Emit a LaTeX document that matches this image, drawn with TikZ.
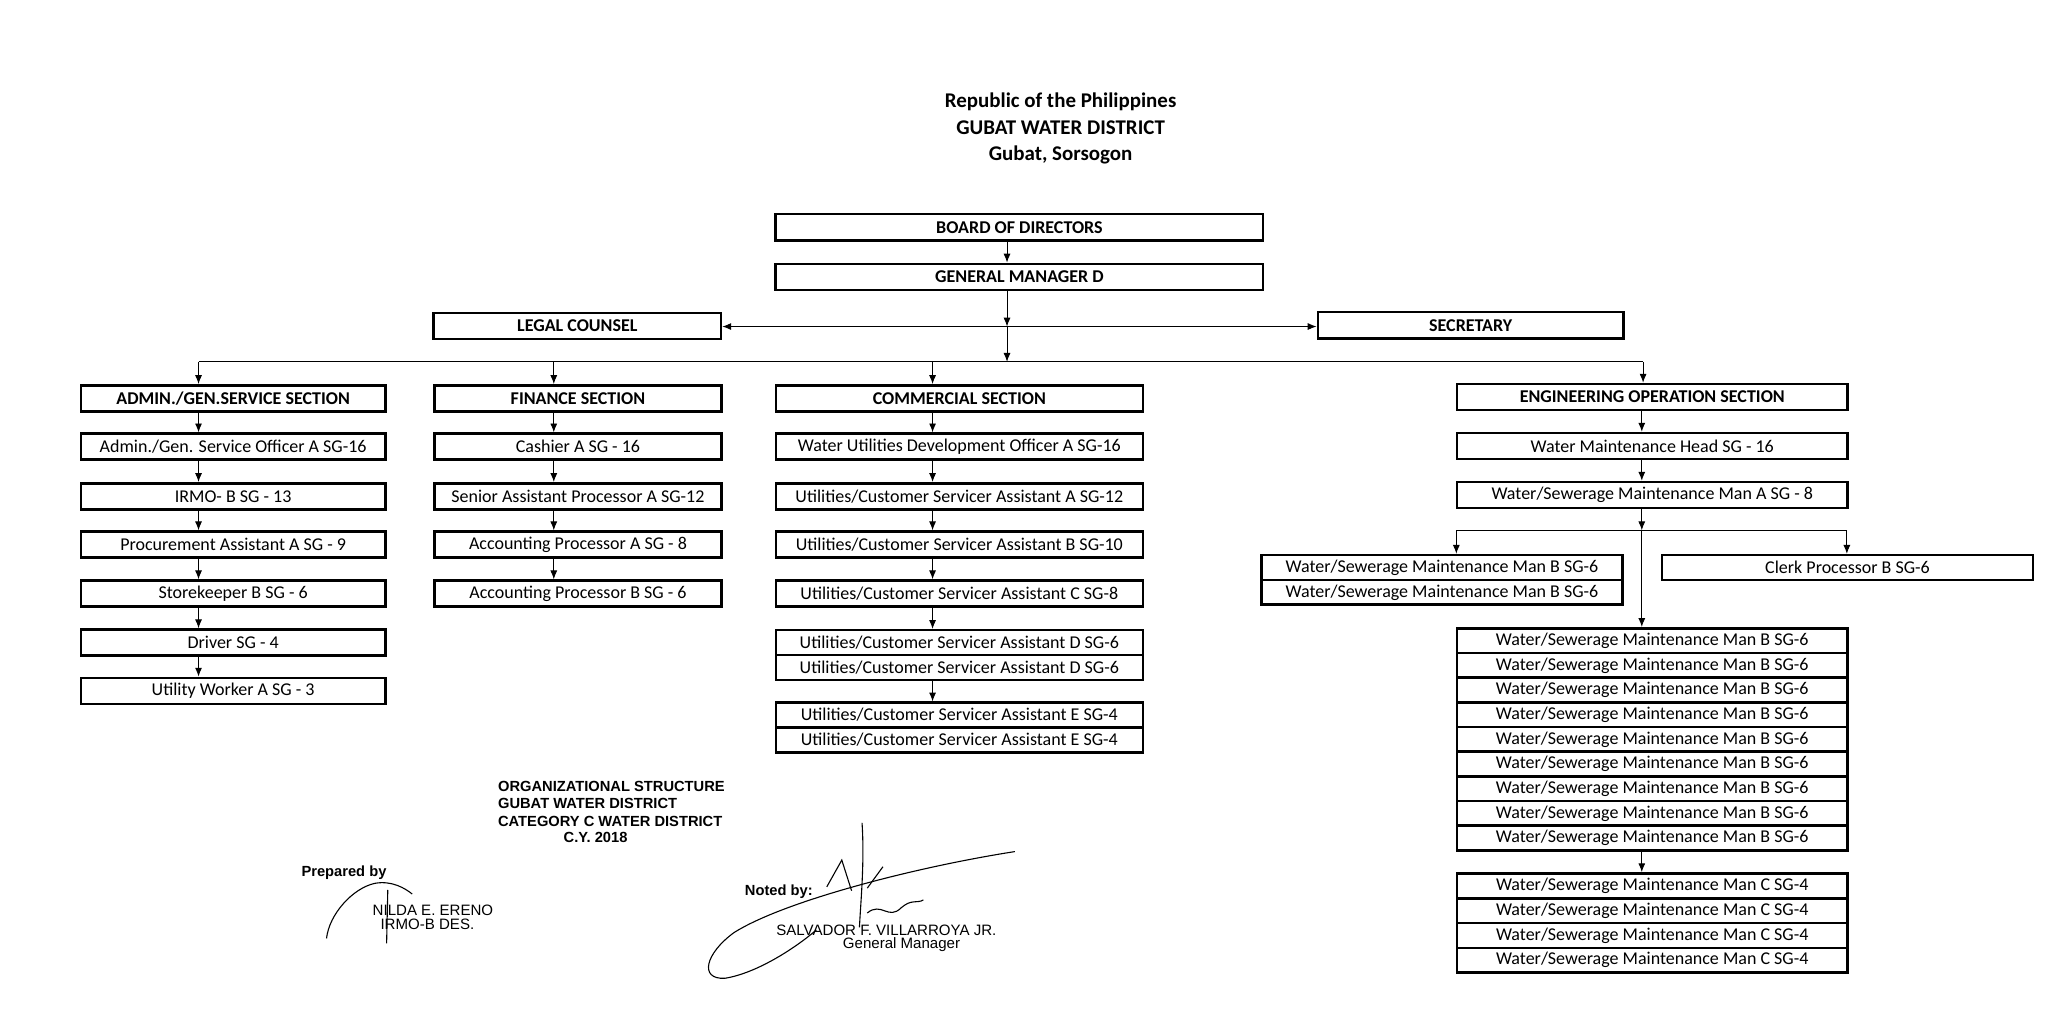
\documentclass[tikz,border=0pt]{standalone}
\usepackage{fontspec}
\setmainfont{Carlito}
\newfontfamily\scanfont{Liberation Sans}
\usetikzlibrary{arrows.meta}

\begin{document}
\begin{tikzpicture}[x=0.025cm, y=-0.025cm, ->, >={Latex[length=4.8pt,width=3.8pt]}, line width=0.5pt,
    box/.style={draw, rectangle, line width=1.4pt, minimum height=0.5cm, inner sep=0pt, font=\fontsize{9.8}{12}\selectfont},
    head/.style={box, font=\fontsize{9.8}{12}\selectfont\bfseries},
    row/.style={box, minimum height=0.475cm},
    admcol/.style={box, minimum width=5.825cm},
    fincol/.style={box, minimum width=5.5cm},
    comcol/.style={box, minimum width=7.025cm},
    engcol/.style={box, minimum width=7.475cm},
    title/.style={draw=none, inner sep=0pt, font=\fontsize{11.4}{14}\selectfont\bfseries},
    scan/.style={draw=none, inner sep=0pt, anchor=west, font=\scanfont\fontsize{8}{9}\selectfont\bfseries},
    scanname/.style={scan, font=\scanfont\fontsize{8.2}{9}\selectfont},
    sig/.style={-, line width=0.6pt}]
    \useasboundingbox (0,0) rectangle (1568,787);

    % Heading
    \node[title] (rep) at (812,78) {Republic of the Philippines};
    \node[title] (gwd) at (812,98) {GUBAT WATER DISTRICT};
    \node[title] (town) at (812,119) {Gubat, Sorsogon};

    % Nodes
    \node[head, minimum width=9.325cm] (board) at (780.5,174) {BOARD OF DIRECTORS};
    \node[head, minimum width=9.325cm] (gm) at (780.5,212) {GENERAL MANAGER D};
    \node[head, minimum width=5.5cm] (legal) at (442,249.5) {LEGAL COUNSEL};
    \node[head, minimum width=5.85cm] (sec) at (1126,249) {SECRETARY};

    \node[head, minimum width=5.825cm] (adm0) at (178.5,305) {ADMIN./GEN.SERVICE SECTION};
    \node[head, minimum width=5.5cm] (fin0) at (442.5,305) {FINANCE SECTION};
    \node[head, minimum width=7.025cm] (com0) at (734.5,305) {COMMERCIAL SECTION};
    \node[head, minimum width=7.475cm] (eng0) at (1265,304) {ENGINEERING OPERATION SECTION};

    \node[admcol] (adm1) at (178.5,342) {Admin./Gen. Service Officer A SG-16};
    \node[admcol] (adm2) at (178.5,380) {IRMO- B SG - 13};
    \node[admcol] (adm3) at (178.5,417) {Procurement Assistant A SG - 9};
    \node[admcol] (adm4) at (178.5,454.5) {Storekeeper B SG - 6};
    \node[admcol] (adm5) at (178.5,492) {Driver SG - 4};
    \node[admcol] (adm6) at (178.5,529) {Utility Worker A SG - 3};

    \node[fincol] (fin1) at (442.5,342) {Cashier A SG - 16};
    \node[fincol] (fin2) at (442.5,380) {Senior Assistant Processor A SG-12};
    \node[fincol] (fin3) at (442.5,417) {Accounting Processor A SG - 8};
    \node[fincol] (fin4) at (442.5,454.5) {Accounting Processor B SG - 6};

    \node[comcol] (com1) at (734.5,342) {Water Utilities Development Officer A SG-16};
    \node[comcol] (com2) at (734.5,380) {Utilities/Customer Servicer Assistant A SG-12};
    \node[comcol] (com3) at (734.5,417) {Utilities/Customer Servicer Assistant B SG-10};
    \node[comcol] (com4) at (734.5,454.5) {Utilities/Customer Servicer Assistant C SG-8};
    \node[comcol, row] (com5) at (734.5,492) {Utilities/Customer Servicer Assistant D SG-6};
    \node[comcol, row] (com6) at (734.5,511) {Utilities/Customer Servicer Assistant D SG-6};
    \node[comcol, row] (com7) at (734.5,547.5) {Utilities/Customer Servicer Assistant E SG-4};
    \node[comcol, row] (com8) at (734.5,566.5) {Utilities/Customer Servicer Assistant E SG-4};

    \node[engcol] (eng1) at (1265,341.5) {Water Maintenance Head SG - 16};
    \node[engcol] (eng2) at (1265,379) {Water/Sewerage Maintenance Man A SG - 8};
    \node[box, row, minimum width=6.9cm] (pair1) at (1104,434.5) {Water/Sewerage Maintenance Man B SG-6};
    \node[box, row, minimum width=6.9cm] (pair2) at (1104,453.5) {Water/Sewerage Maintenance Man B SG-6};
    \node[box, row, minimum width=7.1cm] (clerk) at (1414.5,434.5) {Clerk Processor B SG-6};

    \node[engcol, row] (mb1) at (1265,490.5) {Water/Sewerage Maintenance Man B SG-6};
    \node[engcol, row] (mb2) at (1265,509.4) {Water/Sewerage Maintenance Man B SG-6};
    \node[engcol, row] (mb3) at (1265,528.3) {Water/Sewerage Maintenance Man B SG-6};
    \node[engcol, row] (mb4) at (1265,547.2) {Water/Sewerage Maintenance Man B SG-6};
    \node[engcol, row] (mb5) at (1265,566.1) {Water/Sewerage Maintenance Man B SG-6};
    \node[engcol, row] (mb6) at (1265,585) {Water/Sewerage Maintenance Man B SG-6};
    \node[engcol, row] (mb7) at (1265,603.9) {Water/Sewerage Maintenance Man B SG-6};
    \node[engcol, row] (mb8) at (1265,622.8) {Water/Sewerage Maintenance Man B SG-6};
    \node[engcol, row] (mb9) at (1265,641.7) {Water/Sewerage Maintenance Man B SG-6};

    \node[engcol, row] (mc1) at (1265,678.2) {Water/Sewerage Maintenance Man C SG-4};
    \node[engcol, row] (mc2) at (1265,697.2) {Water/Sewerage Maintenance Man C SG-4};
    \node[engcol, row] (mc3) at (1265,716.2) {Water/Sewerage Maintenance Man C SG-4};
    \node[engcol, row] (mc4) at (1265,735.2) {Water/Sewerage Maintenance Man C SG-4};

    % Joints
    \coordinate (hub) at (771,250);
    \coordinate (bus) at (771,277);
    \coordinate (admX) at (152,277);
    \coordinate (finX) at (424,277);
    \coordinate (comX) at (714,277);
    \coordinate (engX) at (1258,277);
    \coordinate (split) at (1257,406);
    \coordinate (splitL) at (1115,406);
    \coordinate (splitR) at (1414,406);

    % Edges
    \draw (board.south -| hub) -- (gm.north -| hub);
    \draw (gm.south -| hub) -- (hub);
    \draw (hub) -- (hub -| legal.east);
    \draw (hub) -- (hub -| sec.west);
    \draw (hub) -- (bus);
    \draw[-] (admX) -- (engX);
    \draw (admX) -- (admX |- adm0.north);
    \draw (finX) -- (finX |- fin0.north);
    \draw (comX) -- (comX |- com0.north);
    \draw (engX) -- (engX |- eng0.north);

    \draw (adm0.south -| admX) -- (adm1.north -| admX);
    \draw (adm1.south -| admX) -- (adm2.north -| admX);
    \draw (adm2.south -| admX) -- (adm3.north -| admX);
    \draw (adm3.south -| admX) -- (adm4.north -| admX);
    \draw (adm4.south -| admX) -- (adm5.north -| admX);
    \draw (adm5.south -| admX) -- (adm6.north -| admX);

    \draw (fin0.south -| finX) -- (fin1.north -| finX);
    \draw (fin1.south -| finX) -- (fin2.north -| finX);
    \draw (fin2.south -| finX) -- (fin3.north -| finX);
    \draw (fin3.south -| finX) -- (fin4.north -| finX);

    \draw (com0.south -| comX) -- (com1.north -| comX);
    \draw (com1.south -| comX) -- (com2.north -| comX);
    \draw (com2.south -| comX) -- (com3.north -| comX);
    \draw (com3.south -| comX) -- (com4.north -| comX);
    \draw (com4.south -| comX) -- (com5.north -| comX);
    \draw (com6.south -| comX) -- (com7.north -| comX);

    \draw (eng0.south -| split) -- (eng1.north -| split);
    \draw (eng1.south -| split) -- (eng2.north -| split);
    \draw (eng2.south -| split) -- (split);
    \draw[-] (splitL) -- (splitR);
    \draw (splitL) -- (splitL |- pair1.north);
    \draw (splitR) -- (splitR |- clerk.north);
    \draw (split) -- (split |- mb1.north);
    \draw (mb9.south -| split) -- (mc1.north -| split);

    % Footer
    \node[scan] (org1) at (381,602.5) {ORGANIZATIONAL STRUCTURE};
    \node[scan] (org2) at (381,615.5) {GUBAT WATER DISTRICT};
    \node[scan] (org3) at (381,629) {CATEGORY C WATER DISTRICT};
    \node[scan, anchor=center] (org4) at (456,641.5) {C.Y. 2018};
    \node[scan] (prep) at (230.5,668) {Prepared by};
    \node[scanname] (nilda) at (285,697) {NILDA E. ERENO};
    \node[scanname] (irmo) at (291,707.5) {IRMO-B DES.};
    \node[scan] (noted) at (570,683) {Noted by:};
    \node[scanname] (salv) at (594,712) {SALVADOR F. VILLARROYA JR.};
    \node[scanname] (gmtitle) at (645,723) {General Manager};

    % Signatures
    \draw[sig] (250,718.5) .. controls (252,700) and (270,680) .. (287,676.3) .. controls (300,674) and (310,680) .. (315.6,684.5);
    \draw[sig] (296.9,681.4) -- (296,722.3);
    \draw[sig] (777,652) .. controls (700,664) and (600,690) .. (562,714) .. controls (540,730) and (535,750) .. (555,749) .. controls (580,745) and (610,725) .. (625,712);
    \draw[sig] (660,630) .. controls (662,660) and (659,690) .. (658,710);
    \draw[sig] (633,679) -- (644.5,658.5) -- (652,682);
    \draw[sig] (664,699) .. controls (675,690) and (680,705) .. (690,695) .. controls (698,688) and (702,692) .. (707,689);
    \draw[sig] (664,680) -- (676,663.6);
\end{tikzpicture}
\end{document}
